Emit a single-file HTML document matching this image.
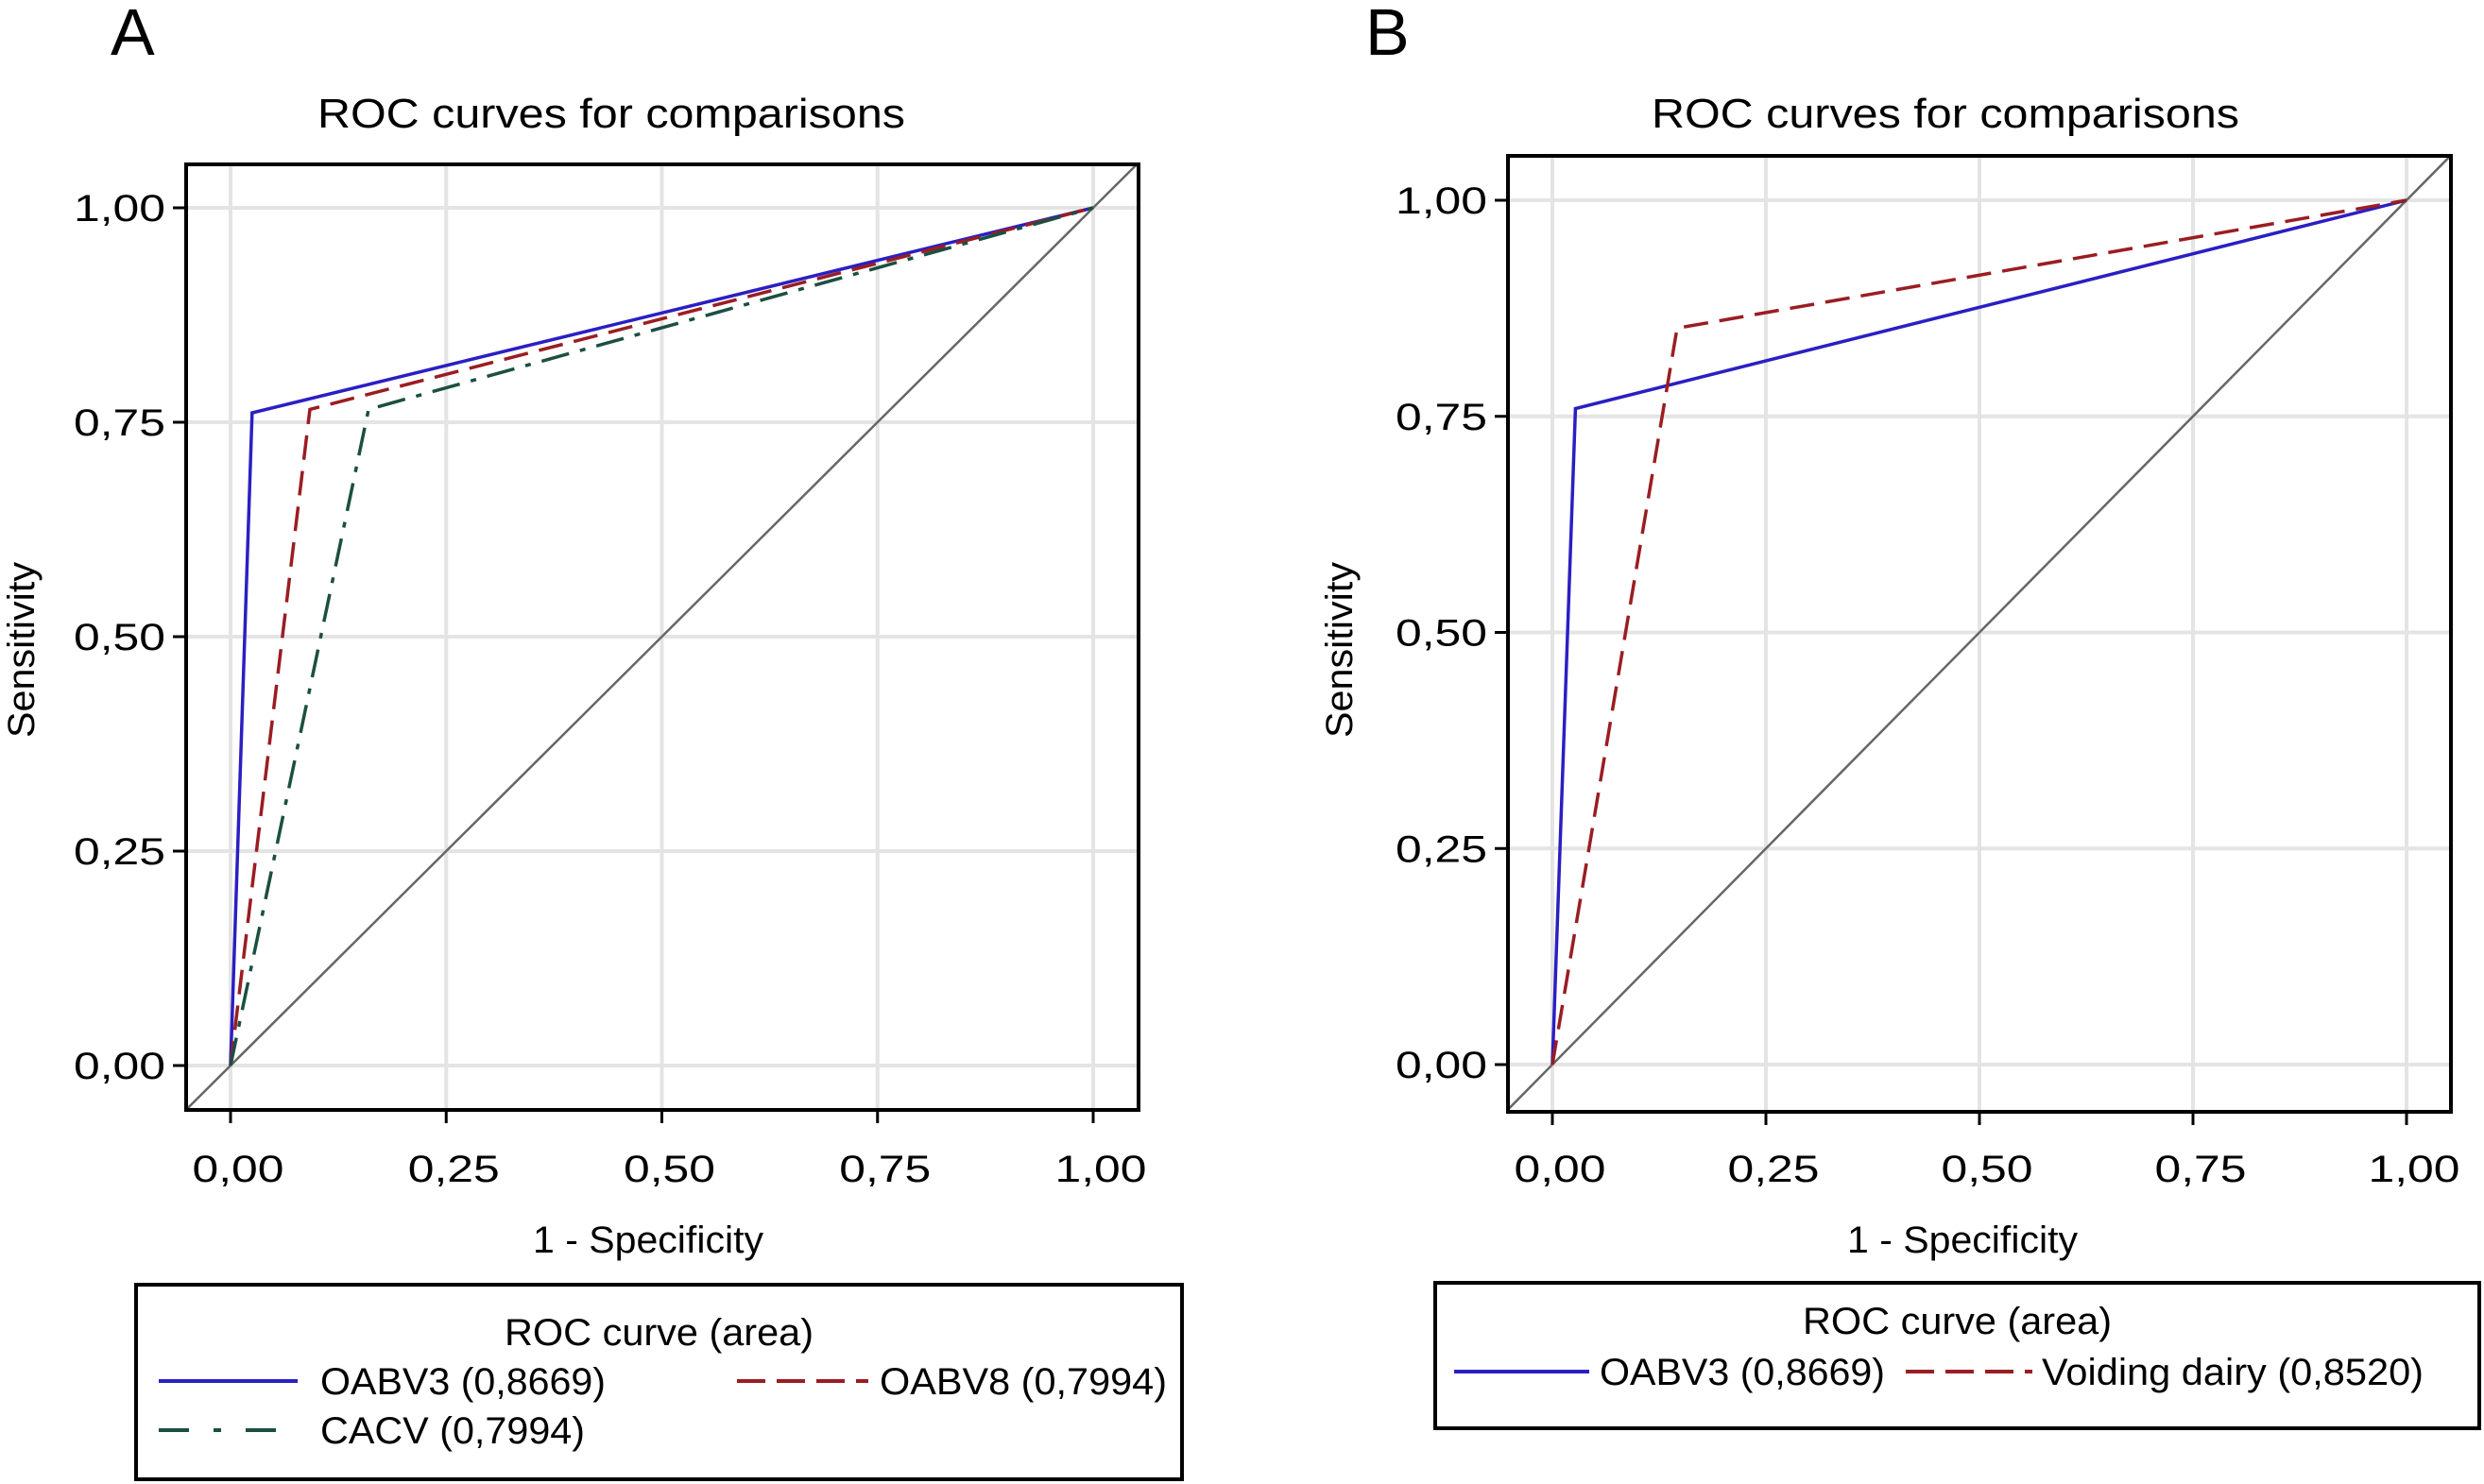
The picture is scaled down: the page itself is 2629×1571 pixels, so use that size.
<!DOCTYPE html>
<html><head><meta charset="utf-8"><style>
html,body{margin:0;padding:0;background:#fff;}
svg{display:block;font-family:"Liberation Sans",sans-serif;}
</style></head><body>
<svg id="s" width="2629" height="1571" viewBox="0 0 2629 1571" xmlns="http://www.w3.org/2000/svg"></svg>
<script>
const tickValues = [0, 0.25, 0.5, 0.75, 1];
const tickLabels = ["0,00", "0,25", "0,50", "0,75", "1,00"];
const aOabv3X = [0, 0.025, 1];
const aOabv3Y = [0, 0.761, 1];
const aOabv8X = [0, 0.092, 1];
const aOabv8Y = [0, 0.765, 1];
const aCacvX = [0, 0.16, 1];
const aCacvY = [0, 0.765, 1];
const bOabv3X = [0, 0.027, 1];
const bOabv3Y = [0, 0.759, 1];
const bVoidX = [0, 0.146, 1];
const bVoidY = [0, 0.852, 1];

const NS = "http://www.w3.org/2000/svg";
const svg = document.getElementById('s');
function mk(tag, attrs, parent) {
  const e = document.createElementNS(NS, tag);
  for (const k in attrs) e.setAttribute(k, attrs[k]);
  (parent || svg).appendChild(e);
  return e;
}
function txt(str, attrs, parent) { const t = mk('text', attrs, parent); t.textContent = str; return t; }

const BLUE = "#2b1fc2", RED = "#9a1d22", GREEN = "#1b4f42";

function panel(cfg) {
  const g = mk('g', {});
  
  
  const sx = v => cfg.x0 + v * (cfg.x1 - cfg.x0);
  const sy = v => cfg.y0 - v * (cfg.y0 - cfg.y1);
  const letter = txt(cfg.letter, {x: cfg.letterX, y: 58, 'font-size': 70}, g);
  
  
  const title = txt("ROC curves for comparisons", {x: cfg.titleX, y: 135, 'font-size': 44, 'text-anchor': 'middle', textLength: 622, lengthAdjust: 'spacingAndGlyphs'}, g);
  
  
  const clipId = 'clip' + cfg.id;
  const cp = mk('clipPath', {id: clipId}, g);
  mk('rect', {x: cfg.L, y: cfg.T, width: cfg.R - cfg.L, height: cfg.B - cfg.T}, cp);
  // grid
  tickValues.forEach((v, i) => {
    const gx = mk('line', {x1: sx(v), x2: sx(v), y1: cfg.T, y2: cfg.B, stroke: '#e4e4e4', 'stroke-width': 4}, g);
    
    
    const gy = mk('line', {x1: cfg.L, x2: cfg.R, y1: sy(v), y2: sy(v), stroke: '#e4e4e4', 'stroke-width': 4}, g);
    
    
    mk('line', {x1: sx(v), x2: sx(v), y1: cfg.B, y2: cfg.B + 14, stroke: '#000', 'stroke-width': 3}, g);
    mk('line', {x1: cfg.L - 14, x2: cfg.L, y1: sy(v), y2: sy(v), stroke: '#000', 'stroke-width': 3}, g);
    const xl = txt(tickLabels[i], {x: sx(v) + 8, y: 1251, 'font-size': 40, 'text-anchor': 'middle', textLength: 97, lengthAdjust: 'spacingAndGlyphs'}, g);
    
    
    const yl = txt(tickLabels[i], {x: cfg.L - 22, y: sy(v) + 14, 'font-size': 40, 'text-anchor': 'end', textLength: 97, lengthAdjust: 'spacingAndGlyphs'}, g);
    
    
  });
  // diagonal
  const dg = mk('line', {x1: sx(-0.1), y1: sy(-0.1), x2: sx(1.1), y2: sy(1.1), stroke: '#666', 'stroke-width': 2.5, 'clip-path': 'url(#' + clipId + ')'}, g);
  
  
  cfg.series.forEach(s => {
    const pts = s.xs.map((x, i) => sx(x) + ',' + sy(s.ys[i])).join(' ');
    const p = mk('polyline', {points: pts, fill: 'none', stroke: s.color, 'stroke-width': 3.5, 'stroke-dasharray': s.dash || 'none'}, g);
    
    
  });
  const fr = mk('rect', {x: cfg.L, y: cfg.T, width: cfg.R - cfg.L, height: cfg.B - cfg.T, fill: 'none', stroke: '#000', 'stroke-width': 4}, g);
  
  
  const xt = txt("1 - Specificity", {x: cfg.xTitleX, y: 1326, 'font-size': 40, 'text-anchor': 'middle', textLength: 244, lengthAdjust: 'spacingAndGlyphs'}, g);
  
  
  const yt = txt("Sensitivity", {x: 0, y: 0, 'font-size': 40, 'text-anchor': 'middle', textLength: 186, lengthAdjust: 'spacingAndGlyphs', transform: 'translate(' + (cfg.yTitleX + 14) + ',688) rotate(-90)'}, g);
  
  
  // legend
  const lg = mk('g', {}, g);
  
  
  const lb = cfg.legend;
  mk('rect', {x: lb.x, y: lb.y, width: lb.w, height: lb.h, fill: '#fff', stroke: '#000', 'stroke-width': 4}, lg);
  const lt = txt("ROC curve (area)", {x: lb.x + lb.w / 2, y: lb.titleY + 14, 'font-size': 40, 'text-anchor': 'middle', textLength: 327, lengthAdjust: 'spacingAndGlyphs'}, lg);
  
  
  lb.entries.forEach(en => {
    const ln = mk('line', {x1: en.lx1, x2: en.lx2, y1: en.y, y2: en.y, stroke: en.color, 'stroke-width': 4, 'stroke-dasharray': en.dash || 'none'}, lg);
    
    
    const t = txt(en.label, {x: en.tx, y: en.y + 14, 'font-size': 40, textLength: en.tw, lengthAdjust: 'spacingAndGlyphs'}, lg);
    
    
  });
}

panel({id: 'a', letter: 'A', letterX: 117, titleX: 647, xTitleX: 686, yTitleX: 22,
  L: 197, R: 1205, T: 174, B: 1175, x0: 244, x1: 1157, y1: 220, y0: 1128,
  series: [
    {name: 'oabv3-curve', xs: aOabv3X, ys: aOabv3Y, color: BLUE},
    {name: 'oabv8-curve', xs: aOabv8X, ys: aOabv8Y, color: RED, dash: '26 12'},
    {name: 'cacv-curve', xs: aCacvX, ys: aCacvY, color: GREEN, dash: '30 12 6 12'}
  ],
  legend: {x: 144, y: 1360, w: 1107, h: 206, titleY: 1410, entries: [
    {lx1: 168, lx2: 315, y: 1462, color: BLUE, label: 'OABV3 (0,8669)', tx: 339, tw: 302},
    {lx1: 780, lx2: 919, y: 1462, color: RED, dash: '30 12', label: 'OABV8 (0,7994)', tx: 931, tw: 304},
    {lx1: 168, lx2: 315, y: 1514, color: GREEN, dash: '32 26 8 26', label: 'CACV (0,7994)', tx: 339, tw: 280}
  ]}
});

panel({id: 'b', letter: 'B', letterX: 1445, titleX: 2059, xTitleX: 2077, yTitleX: 1417,
  L: 1596, R: 2594, T: 165, B: 1177, x0: 1643, x1: 2547, y1: 212, y0: 1127,
  series: [
    {name: 'oabv3-curve', xs: bOabv3X, ys: bOabv3Y, color: BLUE},
    {name: 'voiding-diary-curve', xs: bVoidX, ys: bVoidY, color: RED, dash: '26 12'}
  ],
  legend: {x: 1519, y: 1358, w: 1105, h: 154, titleY: 1398, entries: [
    {lx1: 1539, lx2: 1682, y: 1452, color: BLUE, label: 'OABV3 (0,8669)', tx: 1693, tw: 302},
    {lx1: 2017, lx2: 2151, y: 1452, color: RED, dash: '30 12', label: 'Voiding dairy (0,8520)', tx: 2161, tw: 404}
  ]}
});
</script>
</body></html>
